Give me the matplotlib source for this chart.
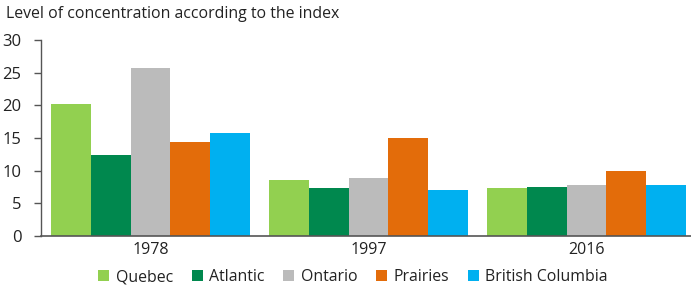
import numpy as np
import matplotlib.pyplot as plt

plt.rcParams['font.family'] = ['Open Sans', 'DejaVu Sans']

years = ["1978", "1997", "2016"]
regions = ["Quebec", "Atlantic", "Ontario", "Prairies", "British Columbia"]
quebec = [20.2, 8.6, 7.35]
atlantic = [12.4, 7.35, 7.5]
ontario = [25.7, 8.9, 7.8]
prairies = [14.4, 15.0, 9.95]
bc = [15.8, 7.05, 7.8]
colors = ["#92d050", "#00884e", "#bbbbbb", "#e36c0a", "#00b0f0"]

fig = plt.figure(figsize=(6.91, 2.88), dpi=100)
ax = fig.add_axes([41 / 691, 1 - 236 / 288, 650 / 691, 196 / 288])

x = np.arange(len(years))
w = 0.1826
series = [quebec, atlantic, ontario, prairies, bc]
for i, (vals, name, c) in enumerate(zip(series, regions, colors)):
    ax.bar(x + (i - 2) * w, vals, w, color=c, label=name, linewidth=0)

ax.set_xlim(-0.502, 2.479)
ax.set_ylim(0, 30)
ax.set_yticks([0, 5, 10, 15, 20, 25, 30])
ax.set_xticks(x)
ax.set_xticklabels(years)
ax.tick_params(axis='x', length=0, labelsize=11.5, pad=4, colors='#222222')
ax.tick_params(axis='y', length=5, width=1, labelsize=12, pad=9, colors='#222222')
ax.tick_params(axis='y', color='#555555')
for s in ['top', 'right']:
    ax.spines[s].set_visible(False)
ax.spines['left'].set_color('#555555')
ax.spines['bottom'].set_color('#555555')
ax.spines['left'].set_linewidth(1)
ax.spines['bottom'].set_linewidth(1.2)

fig.text(6 / 691, 1 - 14 / 288, "Level of concentration according to the index",
         fontsize=11.4, va='center', ha='left', color='#222222')

fig.legend(loc='center', bbox_to_anchor=(353 / 691, 1 - 277 / 288), ncol=5, frameon=False,
           fontsize=11.4, handlelength=0.7, handleheight=0.7, handletextpad=0.4,
           columnspacing=1.18, borderpad=0, labelcolor='#222222')

fig.savefig("out.png", dpi=100)
